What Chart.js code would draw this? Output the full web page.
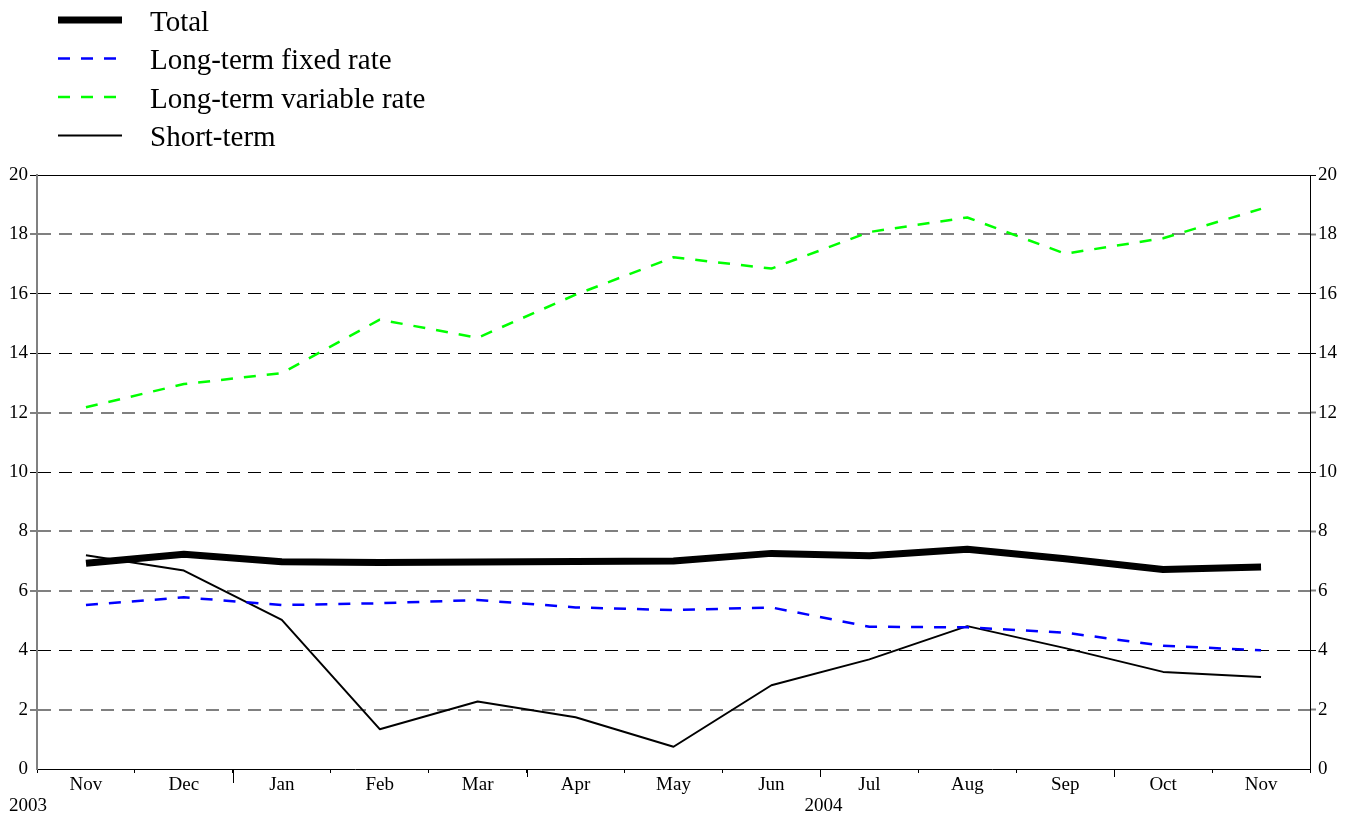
<!DOCTYPE html>
<html>
<head>
<meta charset="utf-8">
<script src="https://cdn.jsdelivr.net/npm/chart.js@4"></script>
<style>
  html, body { margin: 0; padding: 0; background: #fff; }
  #wrap { width: 1358px; height: 814px; position: relative; }
</style>
</head>
<body>
<div id="wrap"><canvas id="chart"></canvas></div>
<script>
// months, Nov 2003 - Nov 2004
const months = ['Nov', 'Dec', 'Jan', 'Feb', 'Mar', 'Apr', 'May', 'Jun', 'Jul', 'Aug', 'Sep', 'Oct', 'Nov'];
const yearLabels = ['2003', '2004'];

const total = [6.93, 7.23, 6.98, 6.95, 6.97, 6.99, 7.0, 7.26, 7.18, 7.4, 7.08, 6.72, 6.8];
const fixedRate = [5.52, 5.78, 5.52, 5.58, 5.69, 5.44, 5.35, 5.44, 4.79, 4.77, 4.59, 4.15, 4.0];
const variableRate = [12.18, 12.96, 13.33, 15.13, 14.52, 15.97, 17.23, 16.85, 18.08, 18.57, 17.35, 17.87, 18.86];
const shortTerm = [7.2, 6.68, 5.02, 1.34, 2.27, 1.74, 0.75, 2.82, 3.69, 4.81, 4.07, 3.27, 3.1];

const FONT = "'Liberation Serif', 'Times New Roman', serif";
const GRAY = '#808080';
const darkLines = [4, 10, 14, 16];

function gridColor(ctx) {
    const v = ctx.tick ? ctx.tick.value : null;
    if (v === 0) return 'rgba(0,0,0,0)';
    if (v === 20 || darkLines.includes(v)) return '#000';
    return GRAY;
}
function gridWidth(ctx) {
    const v = ctx.tick ? ctx.tick.value : null;
    return (v === 20 || darkLines.includes(v)) ? 1 : 2;
}

// legend drawn as a vertical list in the top left corner
const legendPlugin = {
    id: 'sideLegend',
    afterDraw(chart) {
        const c = chart.ctx;
        c.save();
        chart.data.datasets.forEach((ds, i) => {
            const y = 20 + i * 38.5;
            c.strokeStyle = ds.borderColor;
            c.lineWidth = ds.borderWidth;
            c.setLineDash(ds.borderDash || []);
            c.beginPath();
            c.moveTo(58, y);
            c.lineTo(122, y);
            c.stroke();
            c.setLineDash([]);
            c.fillStyle = '#000';
            c.font = '29px ' + FONT;
            c.textBaseline = 'middle';
            c.textAlign = 'left';
            c.fillText(ds.label, 150, y + 3);
        });
        c.restore();
    }
};

// longer ticks at quarter / year boundaries, plus year labels
const axisExtras = {
    id: 'axisExtras',
    afterDraw(chart) {
        const c = chart.ctx;
        const x = chart.scales.x;
        const bottom = chart.chartArea.bottom;
        c.save();
        c.strokeStyle = '#000';
        c.lineWidth = 1;
        [[1.5, 14], [4.5, 8], [7.5, 8], [10.5, 8]].forEach(([v, len]) => {
            const px = Math.round(x.getPixelForValue(v)) + 0.5;
            c.beginPath();
            c.moveTo(px, bottom);
            c.lineTo(px, bottom + len);
            c.stroke();
        });
        c.fillStyle = '#000';
        c.font = '19px ' + FONT;
        c.textAlign = 'center';
        c.textBaseline = 'middle';
        c.fillText(yearLabels[0], x.getPixelForValue(-0.5) - 9, 806);
        c.fillText(yearLabels[1], x.getPixelForValue(7.5) + 3, 806);
        c.restore();
    }
};

new Chart(document.getElementById('chart'), {
    type: 'line',
    data: {
        labels: months,
        datasets: [
            { label: 'Total', data: total, borderColor: '#000', borderWidth: 7, borderDash: [] },
            { label: 'Long-term fixed rate', data: fixedRate, borderColor: '#0000ff', borderWidth: 2.5, borderDash: [12, 11] },
            { label: 'Long-term variable rate', data: variableRate, borderColor: '#00ff00', borderWidth: 2.5, borderDash: [12, 11] },
            { label: 'Short-term', data: shortTerm, borderColor: '#000', borderWidth: 2, borderDash: [] }
        ]
    },
    options: {
        responsive: true,
        maintainAspectRatio: false,
        animation: false,
        layout: { padding: { top: 175, left: 0, right: 0, bottom: 0 } },
        elements: {
            point: { radius: 0 },
            line: { tension: 0, borderJoinStyle: 'round' }
        },
        plugins: {
            legend: { display: false },
            tooltip: { enabled: false }
        },
        scales: {
            x: {
                type: 'category',
                offset: true,
                afterFit: s => { s.height = 45; },
                grid: { offset: true, drawOnChartArea: false, tickLength: 4, color: '#000', lineWidth: 1 },
                border: { color: '#000', width: 1 },
                ticks: { color: '#000', font: { family: FONT, size: 19 }, padding: 1, maxRotation: 0, autoSkip: false }
            },
            y: {
                position: 'left',
                min: 0,
                max: 20,
                afterFit: s => { s.width = 37; },
                grid: {
                    color: gridColor,
                    lineWidth: gridWidth,
                    tickColor: gridColor,
                    tickWidth: gridWidth,
                    tickLength: 7
                },
                border: {
                    color: GRAY,
                    width: 2,
                    dash: ctx => (ctx.tick && ctx.tick.value !== 20) ? [13, 8] : []
                },
                ticks: { stepSize: 2, color: '#000', font: { family: FONT, size: 19 }, padding: 2 }
            },
            y2: {
                position: 'right',
                min: 0,
                max: 20,
                afterFit: s => { s.width = 48; },
                grid: {
                    drawOnChartArea: false,
                    color: gridColor,
                    tickColor: gridColor,
                    tickWidth: gridWidth,
                    tickLength: 6
                },
                border: { color: '#000', width: 1 },
                ticks: { stepSize: 2, color: '#000', font: { family: FONT, size: 19 }, padding: 2 }
            }
        }
    },
    plugins: [legendPlugin, axisExtras]
});
</script>
</body>
</html>
